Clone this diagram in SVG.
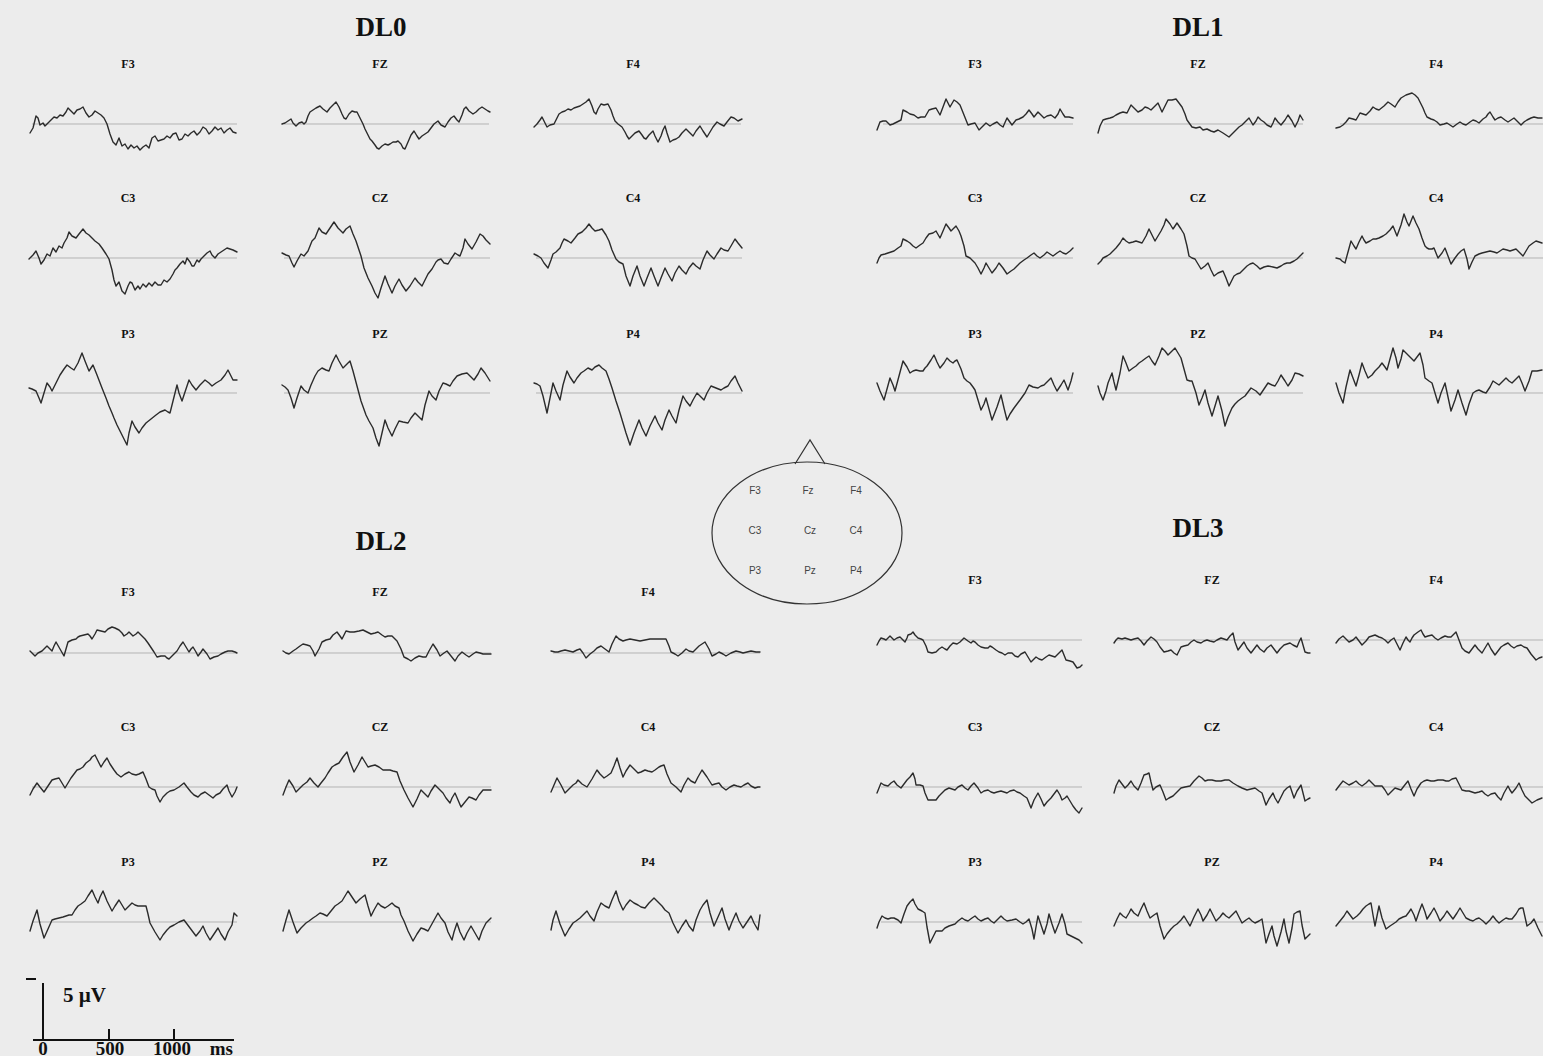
<svg xmlns="http://www.w3.org/2000/svg" width="1543" height="1056" viewBox="0 0 1543 1056">
<style>
.wave{fill:none;stroke:#2b2b2b;stroke-width:1.4;stroke-linejoin:round;stroke-linecap:round}
.base{stroke:#b3b3b3;stroke-width:1}
.lbl{font-family:"Liberation Serif",serif;font-weight:bold;font-size:12px;text-anchor:middle;fill:#111}
.title{font-family:"Liberation Serif",serif;font-weight:bold;font-size:27px;text-anchor:middle;fill:#111}
.hl{font-family:"Liberation Sans",sans-serif;font-size:10px;text-anchor:middle;fill:#444}
.ax{stroke:#111;stroke-width:2;fill:none}
.axt{font-family:"Liberation Serif",serif;font-weight:bold;fill:#111}
</style>
<rect x="0" y="0" width="1543" height="1056" fill="#ececec"/>

<g id="titles">
<text class="title" x="381" y="36">DL0</text>
<text class="title" x="1198" y="36">DL1</text>
<text class="title" x="381" y="550">DL2</text>
<text class="title" x="1198" y="537">DL3</text>
</g>

<!-- DL0 -->
<g id="dl0-f3"><text class="lbl" x="128" y="68">F3</text><g transform="translate(30,124)"><line class="base" x1="2" y1="0" x2="207" y2="0"/><polyline class="wave" points="0,9 3,4 6,-8 8,-6 10,1 13,-1 15,2 18,-1 21,-4 24,-7 27,-6 30,-9 33,-8 36,-12 38,-16 41,-13 44,-10 47,-14 50,-15 53,-17 56,-11 59,-7 62,-9 65,-13 68,-11 71,-9 74,-6 77,0 80,10 83,18 86,21 89,14 92,22 95,20 98,25 101,21 104,24 107,22 110,26 113,23 116,21 119,24 122,14 125,12 128,17 131,16 134,15 137,12 140,14 143,10 146,9 149,16 152,15 155,10 158,12 161,9 164,7 167,11 170,8 173,3 176,5 179,10 182,7 185,3 188,6 191,4 194,9 197,6 200,4 203,8 206,9"/></g></g>
<g id="dl0-fz"><text class="lbl" x="380" y="68">FZ</text><g transform="translate(282,124)"><line class="base" x1="2" y1="0" x2="207" y2="0"/><polyline class="wave" points="0,0 3,-1 6,-3 9,-5 11,-1 14,2 17,-1 20,-2 22,0 24,-2 26,-8 28,-12 31,-14 34,-16 38,-18 41,-15 45,-12 48,-16 51,-19 54,-22 57,-17 60,-10 62,-6 64,-5 67,-10 70,-13 73,-12 75,-12 78,-6 81,0 83,5 86,11 88,15 90,17 93,21 95,24 97,25 100,22 103,20 106,21 108,20 111,18 114,18 116,17 119,20 121,24 123,25 126,18 129,11 132,7 135,12 137,15 140,12 143,10 146,8 149,4 152,0 156,-3 159,1 163,3 166,-2 169,-6 172,-8 175,-4 177,-2 180,-9 182,-15 184,-17 187,-13 191,-10 194,-12 197,-15 200,-17 203,-15 206,-13 208,-12"/></g></g>
<g id="dl0-f4"><text class="lbl" x="633" y="68">F4</text><g transform="translate(534,124)"><line class="base" x1="2" y1="0" x2="207" y2="0"/><polyline class="wave" points="0,3 3,0 6,-4 8,-7 10,-3 13,3 16,1 20,0 22,-4 25,-10 28,-12 31,-13 34,-15 37,-14 40,-16 43,-17 46,-18 49,-20 52,-22 55,-25 58,-18 60,-12 62,-10 64,-15 67,-20 70,-19 74,-20 77,-14 79,-8 81,-3 84,0 88,3 91,8 93,12 95,15 98,12 101,9 105,7 108,11 110,14 112,15 115,11 119,7 121,12 124,18 127,12 129,6 131,2 133,9 136,18 139,16 142,15 145,13 148,9 152,5 155,8 159,12 162,7 166,2 169,7 173,13 176,8 179,3 183,-2 186,0 190,2 193,-2 197,-7 200,-6 204,-3 206,-4 208,-5"/></g></g>
<g id="dl0-c3"><text class="lbl" x="128" y="202">C3</text><g transform="translate(29,258)"><line class="base" x1="2" y1="0" x2="208" y2="0"/><polyline class="wave" points="0,1 4,-3 7,-7 10,0 12,6 15,2 18,-4 21,-2 24,-10 27,-6 30,-12 33,-10 35,-15 38,-20 40,-26 43,-22 47,-20 50,-24 54,-29 57,-25 60,-23 63,-20 66,-17 70,-14 73,-10 77,-4 80,1 83,12 85,22 87,28 90,24 93,33 96,36 99,28 101,24 103,25 106,32 109,28 111,31 114,26 117,29 120,25 123,28 126,24 129,27 132,27 135,22 138,24 141,21 144,16 146,12 148,10 151,6 154,3 156,6 158,0 161,4 163,8 165,8 168,2 170,4 172,1 175,-2 178,-5 181,-7 183,-3 186,0 189,-4 192,-6 195,-8 198,-10 201,-9 204,-8 208,-6"/></g></g>
<g id="dl0-cz"><text class="lbl" x="380" y="202">CZ</text><g transform="translate(282,258)"><line class="base" x1="2" y1="0" x2="208" y2="0"/><polyline class="wave" points="0,-5 4,-3 7,-2 10,5 12,9 15,3 19,-4 22,-2 26,-7 28,-12 30,-17 33,-20 37,-30 40,-26 44,-24 48,-30 52,-36 56,-30 61,-25 64,-29 68,-32 71,-24 74,-17 77,-8 79,-2 82,10 86,20 90,28 93,35 96,40 99,30 103,18 106,26 110,35 113,28 117,21 120,27 124,33 128,28 133,20 136,24 140,28 143,22 146,16 150,11 154,4 156,2 159,1 162,5 166,6 169,1 173,-5 176,-3 178,-2 181,-10 183,-19 186,-14 190,-9 194,-16 198,-24 201,-22 204,-18 208,-14"/></g></g>
<g id="dl0-c4"><text class="lbl" x="633" y="202">C4</text><g transform="translate(534,258)"><line class="base" x1="2" y1="0" x2="208" y2="0"/><polyline class="wave" points="0,-4 4,-2 7,0 10,5 14,10 17,2 19,-4 22,-6 26,-10 28,-15 30,-19 34,-17 37,-15 41,-20 44,-24 48,-26 52,-30 55,-34 58,-30 61,-27 65,-28 68,-29 72,-23 75,-17 78,-8 82,1 85,4 89,6 92,18 96,28 99,18 103,8 106,18 110,28 113,20 117,10 120,18 124,28 127,20 131,10 134,16 138,23 141,15 145,8 148,12 152,16 155,10 159,5 162,8 166,11 169,2 173,-7 176,-3 180,1 183,-4 187,-10 190,-8 194,-7 197,-12 201,-19 204,-15 208,-10"/></g></g>
<g id="dl0-p3"><text class="lbl" x="128" y="338">P3</text><g transform="translate(29,393)"><line class="base" x1="2" y1="0" x2="208" y2="0"/><polyline class="wave" points="0,-5 3,-4 7,-2 10,5 12,10 15,0 18,-10 21,-6 23,-2 27,-10 31,-18 35,-24 38,-28 42,-25 45,-23 49,-30 53,-40 56,-32 60,-22 62,-25 64,-28 68,-18 73,-5 77,5 80,13 83,20 85,25 88,32 92,40 95,46 98,52 100,40 103,28 106,34 110,40 113,35 117,30 122,26 127,22 131,19 136,17 139,19 141,20 144,8 148,-8 150,0 153,8 157,-4 160,-13 163,-8 167,-3 171,-8 176,-13 180,-10 183,-7 187,-10 192,-13 196,-18 199,-23 202,-17 204,-13 208,-13"/></g></g>
<g id="dl0-pz"><text class="lbl" x="380" y="338">PZ</text><g transform="translate(282,393)"><line class="base" x1="2" y1="0" x2="208" y2="0"/><polyline class="wave" points="0,-8 3,-6 6,-3 9,5 12,15 15,5 19,-7 22,-3 26,0 29,-8 33,-17 36,-22 40,-25 44,-23 47,-22 50,-30 54,-38 57,-32 61,-25 64,-28 68,-32 71,-22 75,-7 79,8 84,22 87,28 91,35 94,45 97,53 100,40 103,27 106,35 110,43 113,36 117,28 121,29 126,30 129,25 133,20 136,23 140,27 143,12 147,-2 150,3 154,7 157,-2 161,-10 164,-9 168,-7 171,-12 175,-17 180,-19 185,-20 188,-17 192,-13 196,-19 199,-25 203,-20 208,-12"/></g></g>
<g id="dl0-p4"><text class="lbl" x="633" y="338">P4</text><g transform="translate(534,393)"><line class="base" x1="2" y1="0" x2="208" y2="0"/><polyline class="wave" points="0,-10 3,-9 6,-7 9,3 13,20 16,5 19,-10 22,-2 26,7 29,-8 33,-22 36,-16 40,-10 43,-15 47,-20 50,-22 54,-25 58,-23 61,-26 65,-28 68,-25 72,-22 75,-14 78,-5 82,8 86,20 89,30 92,40 96,52 100,40 105,27 108,35 112,43 116,33 121,23 124,30 128,37 131,27 135,17 138,23 142,30 145,17 149,3 152,8 156,13 159,7 163,0 166,3 170,7 173,0 177,-7 182,-5 187,-3 190,-5 194,-7 197,-12 201,-17 204,-10 208,-2"/></g></g>

<!-- DL1 -->
<g id="dl1-f3"><text class="lbl" x="975" y="68">F3</text><g transform="translate(877,124)"><line class="base" x1="6" y1="0" x2="196" y2="0"/><polyline class="wave" points="0,6 3,-2 6,-3 9,-3 13,1 16,0 20,-2 24,-4 26,-14 28,-13 30,-12 33,-10 37,-9 41,-6 44,-7 48,-7 52,-14 55,-15 59,-16 63,-9 66,-17 69,-25 71,-21 73,-17 77,-24 80,-22 83,-19 87,-9 91,1 94,0 98,-1 102,6 105,3 109,-1 113,2 116,0 120,-2 123,1 126,3 130,-6 135,1 139,-4 142,-5 146,-7 149,-10 152,-14 155,-10 157,-7 161,-12 164,-9 167,-6 170,-8 174,-9 178,-6 181,-10 183,-15 186,-10 188,-7 192,-7 196,-6"/></g></g>
<g id="dl1-fz"><text class="lbl" x="1198" y="68">FZ</text><g transform="translate(1098,124)"><line class="base" x1="6" y1="0" x2="205" y2="0"/><polyline class="wave" points="0,9 2,2 5,-4 8,-5 12,-6 15,-7 18,-9 22,-11 25,-12 29,-11 33,-19 36,-16 40,-12 44,-14 47,-17 50,-16 53,-14 57,-18 60,-21 64,-12 67,-18 70,-24 74,-24 78,-25 81,-21 84,-17 87,-10 89,-4 94,3 98,4 102,3 105,6 109,5 113,7 116,8 120,6 125,9 128,11 131,13 135,9 138,6 141,3 144,1 148,-3 151,-6 155,1 158,-3 160,-7 163,-4 166,-2 169,1 173,3 175,-1 177,-6 180,-2 183,1 187,-4 190,-9 194,-3 197,3 200,-3 202,-9 205,-4"/></g></g>
<g id="dl1-f4"><text class="lbl" x="1436" y="68">F4</text><g transform="translate(1336,124)"><line class="base" x1="4" y1="0" x2="207" y2="0"/><polyline class="wave" points="0,4 4,3 7,1 10,-2 13,-6 17,-5 20,-4 24,-11 27,-10 30,-9 34,-13 37,-17 40,-15 43,-14 48,-18 52,-22 55,-20 59,-17 62,-22 65,-26 70,-29 73,-30 76,-31 79,-29 82,-26 85,-20 87,-16 89,-11 91,-7 95,-5 98,-4 101,-2 104,1 108,0 111,-1 114,1 117,3 121,0 124,-2 127,0 130,1 134,-2 137,-4 140,-3 143,-1 147,-5 150,-7 152,-10 154,-12 157,-7 159,-4 162,-6 165,-7 169,-4 172,-2 175,-4 178,-6 182,-2 185,1 188,-2 191,-4 195,-6 198,-7 202,-6 206,-6"/></g></g>
<g id="dl1-c3"><text class="lbl" x="975" y="202">C3</text><g transform="translate(877,258)"><line class="base" x1="6" y1="0" x2="196" y2="0"/><polyline class="wave" points="0,5 2,0 4,-3 8,-4 11,-5 14,-6 17,-7 21,-10 24,-12 26,-19 30,-17 33,-15 36,-12 39,-10 43,-13 46,-15 49,-20 52,-24 56,-25 59,-27 63,-20 66,-27 69,-34 72,-30 74,-27 77,-30 79,-32 82,-27 84,-22 87,-12 89,-2 93,0 96,3 98,5 101,10 104,16 107,10 109,5 112,10 115,15 119,10 122,5 126,10 130,16 134,13 137,11 140,8 143,5 147,2 150,0 154,-3 157,-5 160,-2 163,0 167,-3 170,-6 173,-4 176,-2 180,-5 183,-7 186,-5 189,-4 193,-7 196,-10"/></g></g>
<g id="dl1-cz"><text class="lbl" x="1198" y="202">CZ</text><g transform="translate(1098,258)"><line class="base" x1="6" y1="0" x2="205" y2="0"/><polyline class="wave" points="0,6 3,3 5,0 9,-2 12,-4 15,-7 18,-10 22,-15 25,-20 28,-17 31,-15 35,-16 38,-17 41,-16 44,-15 48,-22 51,-29 54,-23 57,-17 60,-22 63,-27 66,-33 68,-39 72,-34 75,-29 77,-32 79,-35 83,-29 86,-24 89,-12 91,-2 94,0 97,1 100,6 103,11 107,8 110,5 113,12 116,18 120,15 125,13 128,20 131,28 134,22 136,18 139,16 142,15 146,11 149,8 152,6 155,5 159,8 162,11 166,9 170,8 175,9 179,10 183,8 186,6 189,5 192,5 196,3 199,1 202,-2 205,-5"/></g></g>
<g id="dl1-c4"><text class="lbl" x="1436" y="202">C4</text><g transform="translate(1336,258)"><line class="base" x1="4" y1="0" x2="207" y2="0"/><polyline class="wave" points="0,0 4,1 6,3 9,5 12,-6 15,-17 18,-12 20,-9 23,-16 26,-22 28,-18 30,-15 34,-17 37,-19 40,-19 43,-20 47,-22 50,-24 54,-28 57,-32 59,-27 61,-22 65,-33 68,-44 71,-36 73,-32 75,-37 77,-42 80,-35 83,-29 86,-20 89,-12 91,-10 93,-9 96,-9 98,-10 100,-5 102,0 106,-5 109,-10 112,-2 115,6 119,0 122,-4 125,-7 128,-9 131,1 133,11 136,4 139,-2 143,-4 146,-5 150,-6 154,-7 158,-6 161,-5 164,-7 167,-9 171,-8 174,-7 177,-8 180,-9 184,-5 187,-2 190,-7 193,-12 197,-15 200,-17 203,-16 206,-15"/></g></g>
<g id="dl1-p3"><text class="lbl" x="975" y="338">P3</text><g transform="translate(877,393)"><line class="base" x1="6" y1="0" x2="196" y2="0"/><polyline class="wave" points="0,-10 3,-2 7,7 10,-4 13,-15 16,-8 18,-2 22,-17 26,-32 30,-26 33,-20 36,-22 39,-23 43,-22 46,-22 48,-25 50,-27 54,-33 57,-38 60,-31 63,-25 67,-30 70,-35 73,-32 76,-30 78,-32 80,-33 84,-24 87,-15 90,-12 93,-10 96,-6 98,-3 101,7 104,17 107,11 109,5 112,16 115,27 120,14 124,2 127,15 130,27 133,21 137,15 140,11 143,7 148,0 152,-8 156,-6 161,-5 164,-7 167,-8 171,-12 174,-15 177,-8 180,-2 184,-8 187,-13 189,-8 191,-3 194,-12 196,-20"/></g></g>
<g id="dl1-pz"><text class="lbl" x="1198" y="338">PZ</text><g transform="translate(1098,393)"><line class="base" x1="6" y1="0" x2="205" y2="0"/><polyline class="wave" points="0,-7 2,0 5,7 8,-2 10,-10 12,-15 14,-20 16,-11 18,-3 22,-20 25,-37 28,-30 31,-22 35,-25 38,-27 41,-30 44,-32 48,-35 51,-37 54,-32 57,-28 61,-37 64,-45 67,-42 70,-38 74,-42 77,-45 80,-40 83,-35 86,-24 89,-13 92,-12 94,-12 98,0 101,12 104,5 107,-3 110,10 114,23 117,13 120,3 124,18 127,33 130,24 134,15 137,11 140,8 144,5 147,3 150,-1 153,-5 158,-2 162,2 166,-4 170,-10 174,-8 177,-7 180,-12 183,-18 187,-12 190,-7 194,-13 197,-20 201,-19 205,-17"/></g></g>
<g id="dl1-p4"><text class="lbl" x="1436" y="338">P4</text><g transform="translate(1336,393)"><line class="base" x1="4" y1="0" x2="207" y2="0"/><polyline class="wave" points="0,-10 3,0 7,10 10,-6 14,-23 17,-15 20,-7 23,-18 26,-30 29,-22 32,-15 36,-18 39,-22 43,-26 46,-30 49,-26 51,-23 54,-34 57,-45 60,-35 62,-25 65,-34 67,-43 70,-40 73,-37 76,-34 78,-32 81,-36 84,-40 87,-28 89,-15 93,-12 96,-10 99,0 102,10 105,0 109,-10 112,4 115,18 119,7 122,-3 126,10 130,22 133,11 137,0 140,-2 143,-3 147,-1 150,0 154,-6 157,-12 160,-10 163,-8 167,-12 170,-15 173,-12 176,-10 180,-14 183,-17 186,-10 189,-2 193,-12 196,-22 201,-22 206,-23"/></g></g>

<!-- DL2 -->
<g id="dl2-f3"><text class="lbl" x="128" y="596">F3</text><g transform="translate(30,653)"><line class="base" x1="2" y1="0" x2="207" y2="0"/><polyline class="wave" points="0,-2 3,1 5,3 8,0 12,-2 15,-5 17,-7 20,-4 22,-2 24,-7 26,-11 30,-4 34,3 36,-4 38,-11 42,-13 46,-14 48,-16 50,-17 54,-18 58,-19 60,-17 62,-14 65,-19 67,-23 71,-22 75,-21 78,-24 82,-26 85,-25 89,-23 92,-20 94,-17 97,-19 99,-21 101,-19 103,-17 106,-19 108,-21 111,-18 115,-14 118,-10 120,-7 124,-1 127,4 131,3 135,3 137,5 139,6 143,2 147,-2 150,-7 153,-11 156,-6 159,-1 161,-4 163,-6 166,-1 168,3 171,-1 173,-4 177,1 180,6 184,4 188,3 191,1 195,-1 198,-2 202,-2 205,-1 207,0"/></g></g>
<g id="dl2-fz"><text class="lbl" x="380" y="596">FZ</text><g transform="translate(283,653)"><line class="base" x1="2" y1="0" x2="208" y2="0"/><polyline class="wave" points="0,-2 3,0 6,1 10,-2 13,-4 17,-7 20,-9 24,-8 27,-7 30,-2 32,3 36,-4 39,-11 43,-13 47,-14 50,-18 54,-21 57,-17 59,-14 61,-18 63,-22 67,-21 71,-21 76,-22 80,-23 84,-21 88,-19 92,-20 95,-21 99,-18 102,-16 105,-17 109,-17 111,-15 114,-12 118,-4 121,4 125,6 128,8 132,5 136,3 140,4 143,4 146,-2 150,-9 154,-3 157,3 161,0 164,-2 168,3 172,8 175,3 179,-1 183,2 186,4 190,1 193,-1 197,0 200,1 204,1 208,1"/></g></g>
<g id="dl2-f4"><text class="lbl" x="648" y="596">F4</text><g transform="translate(551,653)"><line class="base" x1="2" y1="0" x2="209" y2="0"/><polyline class="wave" points="0,-2 4,-1 7,-1 10,-2 14,-3 18,-2 22,-1 26,-3 29,-4 32,0 35,5 39,1 43,-2 46,-5 50,-7 54,-4 58,-1 61,-9 65,-17 68,-14 72,-12 75,-13 79,-14 84,-13 89,-12 94,-13 99,-14 103,-14 108,-14 112,-14 115,-14 118,-7 120,-1 124,1 127,3 131,0 135,-4 138,-2 142,-1 145,-4 148,-7 151,-9 154,-11 158,-4 161,3 165,1 168,-1 172,1 175,3 180,0 185,-2 189,-1 192,0 196,-1 200,-2 205,-1 209,-1"/></g></g>
<g id="dl2-c3"><text class="lbl" x="128" y="731">C3</text><g transform="translate(30,787)"><line class="base" x1="2" y1="0" x2="207" y2="0"/><polyline class="wave" points="0,8 3,2 7,-4 10,0 14,5 18,-1 22,-7 25,-8 29,-9 32,-4 35,1 38,-4 41,-9 44,-13 47,-17 50,-18 53,-20 56,-24 60,-27 62,-30 65,-32 68,-26 71,-20 74,-25 77,-29 80,-23 84,-17 87,-13 91,-10 95,-13 99,-15 102,-13 106,-12 109,-13 113,-15 116,-8 119,0 122,2 125,3 127,9 130,15 133,10 137,6 140,4 144,3 149,0 154,-4 157,0 161,5 164,8 168,10 171,7 175,5 179,8 183,11 186,8 190,6 193,2 197,-2 199,4 202,10 205,5 207,0"/></g></g>
<g id="dl2-cz"><text class="lbl" x="380" y="731">CZ</text><g transform="translate(283,787)"><line class="base" x1="2" y1="0" x2="208" y2="0"/><polyline class="wave" points="0,8 3,0 6,-7 10,-1 13,5 16,2 20,-2 24,-5 27,-9 31,-4 35,0 38,-4 42,-9 45,-14 49,-20 52,-22 56,-24 60,-30 64,-35 67,-25 71,-15 75,-22 79,-30 82,-25 85,-20 88,-21 92,-22 96,-20 100,-17 103,-17 107,-17 110,-16 114,-15 117,-6 121,3 125,11 130,20 134,12 138,3 141,6 145,10 148,4 152,-2 156,2 160,6 163,11 167,16 169,11 172,6 175,13 178,20 182,15 186,10 189,11 193,13 196,8 200,3 204,3 208,3"/></g></g>
<g id="dl2-c4"><text class="lbl" x="648" y="731">C4</text><g transform="translate(551,787)"><line class="base" x1="2" y1="0" x2="209" y2="0"/><polyline class="wave" points="0,5 3,-2 6,-9 10,-2 14,6 18,2 22,-2 25,-4 27,-7 31,-3 36,0 41,-8 46,-17 49,-13 53,-9 56,-11 60,-14 63,-21 66,-29 69,-19 72,-10 75,-16 79,-22 83,-18 87,-14 90,-15 94,-17 97,-16 101,-15 104,-17 108,-20 110,-21 113,-22 116,-13 120,-4 125,0 130,5 133,-2 137,-9 140,-6 144,-4 147,-10 151,-17 156,-10 161,-2 164,-3 168,-4 171,0 175,3 179,0 183,-2 186,-1 190,0 193,-2 197,-4 200,-1 204,1 207,0 209,0"/></g></g>
<g id="dl2-p3"><text class="lbl" x="128" y="866">P3</text><g transform="translate(30,922)"><line class="base" x1="2" y1="0" x2="207" y2="0"/><polyline class="wave" points="0,9 3,-1 7,-12 10,2 14,16 18,7 22,-2 25,-3 29,-4 33,-5 36,-6 39,-7 42,-7 45,-12 48,-16 51,-18 55,-21 58,-26 62,-32 65,-25 68,-19 70,-25 73,-31 77,-21 82,-11 85,-16 89,-22 92,-17 95,-12 98,-15 102,-19 105,-17 108,-16 112,-16 116,-16 118,-8 120,1 125,10 130,18 133,13 137,8 140,5 144,3 149,0 154,-2 157,2 160,6 163,10 166,14 170,9 173,4 176,11 180,18 184,12 188,6 191,12 195,18 198,10 202,3 204,-9 207,-6"/></g></g>
<g id="dl2-pz"><text class="lbl" x="380" y="866">PZ</text><g transform="translate(283,922)"><line class="base" x1="2" y1="0" x2="208" y2="0"/><polyline class="wave" points="0,9 3,-2 6,-12 10,0 14,11 18,6 23,1 26,-1 30,-4 33,-6 37,-9 40,-8 44,-6 48,-11 52,-16 55,-18 59,-21 62,-26 65,-31 69,-25 73,-19 77,-23 82,-27 85,-16 88,-6 91,-12 95,-19 98,-16 102,-14 105,-16 109,-19 112,-16 116,-14 118,-7 121,-1 125,9 130,19 134,12 138,6 141,7 145,9 150,0 155,-9 158,-4 162,1 165,10 169,18 171,10 174,1 177,10 181,18 184,11 188,4 192,11 196,18 199,9 203,1 208,-4"/></g></g>
<g id="dl2-p4"><text class="lbl" x="648" y="866">P4</text><g transform="translate(551,922)"><line class="base" x1="2" y1="0" x2="209" y2="0"/><polyline class="wave" points="0,8 2,-2 5,-11 9,2 14,14 18,7 22,1 25,-1 29,-4 32,-7 36,-11 39,-6 43,-1 46,-10 50,-19 54,-16 58,-14 61,-22 65,-31 68,-21 72,-12 75,-17 79,-22 83,-19 87,-17 90,-15 94,-14 98,-19 103,-24 107,-20 111,-16 114,-12 118,-9 122,1 127,11 131,4 135,-2 138,4 142,9 145,-2 149,-12 152,-17 156,-22 159,-9 163,4 167,-5 171,-14 174,-3 178,8 181,0 185,-9 188,-1 192,6 196,0 200,-6 203,1 207,8 209,-7"/></g></g>

<!-- DL3 -->
<g id="dl3-f3"><text class="lbl" x="975" y="584">F3</text><g transform="translate(877,640)"><line class="base" x1="4" y1="0" x2="205" y2="0"/><polyline class="wave" points="0,5 2,1 4,-2 7,-1 9,0 11,-2 13,-4 15,-2 17,0 20,-2 23,-3 26,0 28,2 30,-2 31,-5 34,-6 36,-8 38,-5 41,-2 44,-1 46,0 49,6 51,12 55,13 59,12 62,9 65,7 68,9 70,10 73,6 76,3 80,4 83,2 85,0 87,-2 91,1 94,3 96,1 98,2 101,5 104,7 108,8 111,8 113,6 115,7 119,10 122,12 125,13 128,15 131,13 135,13 138,16 141,17 144,14 148,12 151,17 154,22 157,19 159,17 162,19 165,20 169,17 172,15 175,16 178,17 182,13 185,10 187,15 189,20 193,21 196,22 198,25 200,28 203,27 205,25"/></g></g>
<g id="dl3-fz"><text class="lbl" x="1212" y="584">FZ</text><g transform="translate(1114,640)"><line class="base" x1="2" y1="0" x2="196" y2="0"/><polyline class="wave" points="0,3 2,0 4,-2 8,-1 11,-2 14,-1 17,0 20,-1 24,-2 27,1 30,5 33,1 37,-3 40,-1 43,2 46,7 50,12 54,11 57,10 60,13 63,15 65,11 67,7 70,6 74,5 77,2 80,0 83,2 87,3 90,1 93,0 96,1 100,2 103,0 107,-2 110,-1 113,0 116,-4 119,-7 121,2 124,10 127,6 130,2 133,8 137,13 140,9 143,5 146,9 150,12 153,8 157,5 160,9 163,13 166,9 170,5 173,4 176,3 179,5 183,7 185,2 187,-2 189,5 191,12 194,13 196,13"/></g></g>
<g id="dl3-f4"><text class="lbl" x="1436" y="584">F4</text><g transform="translate(1336,640)"><line class="base" x1="2" y1="0" x2="207" y2="0"/><polyline class="wave" points="0,3 3,-1 7,-4 10,-1 13,2 17,0 20,-3 23,1 26,5 30,1 33,-3 36,-4 39,-5 43,-3 46,-2 49,0 52,3 55,0 58,-2 61,4 64,10 67,3 70,-3 72,0 74,2 76,-2 78,-5 82,-8 85,-10 87,-6 89,-3 92,-4 96,-5 99,-2 102,0 105,-2 109,-4 112,-3 115,-3 118,-6 120,-8 123,0 126,8 129,11 133,13 136,9 139,5 142,9 146,13 149,8 152,3 155,9 159,15 162,11 165,7 168,5 172,3 175,6 178,8 181,6 185,5 188,7 191,8 195,14 200,20 203,18 206,17"/></g></g>
<g id="dl3-c3"><text class="lbl" x="975" y="731">C3</text><g transform="translate(877,787)"><line class="base" x1="4" y1="0" x2="205" y2="0"/><polyline class="wave" points="0,6 2,1 4,-4 7,-2 11,-1 14,-4 17,-6 20,-2 24,1 27,-3 30,-7 33,-10 36,-14 38,-8 39,-2 43,-2 46,-1 48,6 51,13 55,13 59,13 62,9 65,6 68,3 72,1 75,2 78,3 81,0 85,-2 88,1 91,3 94,-1 97,-4 101,1 104,6 107,4 111,3 114,5 117,6 120,5 124,4 127,5 130,6 133,4 137,3 140,5 143,6 147,9 150,11 152,16 154,21 157,13 161,6 164,12 167,19 170,15 174,11 177,7 180,3 183,8 185,13 188,11 190,9 193,14 196,19 199,23 202,26 205,21"/></g></g>
<g id="dl3-cz"><text class="lbl" x="1212" y="731">CZ</text><g transform="translate(1114,787)"><line class="base" x1="2" y1="0" x2="196" y2="0"/><polyline class="wave" points="0,6 2,-1 5,-7 8,-3 11,1 14,-2 17,-6 20,-1 24,3 27,-4 30,-12 33,-13 35,-14 37,-5 39,3 42,0 46,-2 49,5 52,13 55,11 59,9 63,5 67,1 71,0 76,-1 80,-6 85,-11 88,-9 91,-6 94,-7 98,-7 102,-6 107,-6 111,-7 115,-7 119,-4 124,-1 128,1 133,3 137,2 141,1 145,4 148,6 150,12 152,18 155,12 159,6 161,11 164,16 167,10 170,4 173,1 176,-1 178,5 180,11 183,4 187,-2 189,6 191,14 194,12 196,11"/></g></g>
<g id="dl3-c4"><text class="lbl" x="1436" y="731">C4</text><g transform="translate(1336,787)"><line class="base" x1="2" y1="0" x2="207" y2="0"/><polyline class="wave" points="0,3 3,-1 7,-6 10,-4 13,-2 17,-4 20,-6 23,-3 26,-1 30,-4 33,-7 36,-4 39,-1 43,-1 46,-1 49,3 52,8 55,5 59,1 62,2 65,3 68,-1 72,-6 75,2 78,9 81,2 85,-4 88,-6 91,-7 95,-6 98,-6 102,-7 107,-7 110,-6 113,-6 116,-8 120,-9 123,-3 126,3 130,4 133,4 136,5 139,6 143,5 146,4 149,7 152,9 155,7 159,6 162,10 165,13 168,6 172,-1 174,3 176,6 180,1 183,-4 186,3 189,9 193,13 196,16 201,13 206,11"/></g></g>
<g id="dl3-p3"><text class="lbl" x="975" y="866">P3</text><g transform="translate(877,922)"><line class="base" x1="4" y1="0" x2="205" y2="0"/><polyline class="wave" points="0,6 2,0 5,-6 8,-4 11,-3 14,-4 17,-4 21,-2 24,1 27,-8 30,-16 33,-20 36,-23 38,-18 41,-13 45,-11 48,-9 50,5 53,21 56,15 59,9 62,9 65,9 68,6 72,4 75,3 78,2 81,-1 85,-4 88,-2 91,-1 95,-4 98,-6 101,-3 104,-1 108,-3 111,-4 114,-1 117,1 121,-3 124,-6 127,-3 130,-1 135,-2 139,-3 143,0 146,2 149,0 152,-3 155,7 157,17 159,5 161,-6 164,3 167,12 170,2 172,-8 175,2 178,11 182,1 185,-8 188,2 190,12 194,14 198,16 202,18 205,21"/></g></g>
<g id="dl3-pz"><text class="lbl" x="1212" y="866">PZ</text><g transform="translate(1114,922)"><line class="base" x1="2" y1="0" x2="196" y2="0"/><polyline class="wave" points="0,4 3,-3 6,-9 9,-6 12,-4 15,-9 17,-13 20,-9 24,-6 27,-13 30,-19 33,-11 36,-4 40,-7 43,-9 46,4 50,17 53,12 57,7 60,4 63,2 67,-2 70,-6 73,-1 76,4 80,-5 84,-13 87,-7 89,-1 93,-7 96,-13 99,-7 102,-1 106,-5 109,-9 112,-6 115,-4 119,-8 122,-11 125,-5 128,1 132,-2 135,-4 138,-1 141,1 145,-1 148,-3 150,9 152,21 155,12 158,4 160,14 163,24 167,10 170,-3 172,9 175,21 178,6 180,-8 183,-10 186,-11 188,3 191,17 194,14 196,12"/></g></g>
<g id="dl3-p4"><text class="lbl" x="1436" y="866">P4</text><g transform="translate(1336,922)"><line class="base" x1="2" y1="0" x2="207" y2="0"/><polyline class="wave" points="0,4 4,-1 8,-6 11,-11 14,-7 17,-3 21,-6 24,-9 27,-13 30,-16 33,-18 35,-19 37,-7 39,4 41,-6 43,-16 46,-4 50,7 54,4 57,2 60,0 63,-3 67,-5 70,-6 73,-10 75,-13 78,-7 80,-1 83,-10 86,-18 89,-10 91,-3 95,-9 98,-14 101,-8 104,-1 108,-6 111,-11 114,-7 117,-3 121,-9 124,-14 127,-9 130,-4 134,-2 137,-1 140,-3 143,-4 147,-1 150,2 154,-2 157,-6 160,-2 163,1 167,-2 170,-4 173,-3 176,-3 180,-8 183,-13 185,-14 187,-14 189,-5 191,4 195,1 198,-3 202,6 206,14"/></g></g>

<!-- head map -->
<g id="head">
<polyline points="795,464 810,440 825,464" fill="none" stroke="#333" stroke-width="1.2"/>
<ellipse cx="807" cy="533" rx="95" ry="71" fill="none" stroke="#333" stroke-width="1.2"/>
<text class="hl" x="755" y="494">F3</text><text class="hl" x="808" y="494">Fz</text><text class="hl" x="856" y="494">F4</text>
<text class="hl" x="755" y="534">C3</text><text class="hl" x="810" y="534">Cz</text><text class="hl" x="856" y="534">C4</text>
<text class="hl" x="755" y="574">P3</text><text class="hl" x="810" y="574">Pz</text><text class="hl" x="856" y="574">P4</text>
</g>

<!-- scale -->
<g id="scale">
<line class="ax" x1="26" y1="979" x2="36" y2="979"/>
<line class="ax" x1="43" y1="983" x2="43" y2="1040"/>
<line class="ax" x1="33" y1="1040" x2="234" y2="1040"/>
<line class="ax" x1="109" y1="1029" x2="109" y2="1040"/>
<line class="ax" x1="174" y1="1029" x2="174" y2="1040"/>
<text class="axt" x="63" y="1002" font-size="21">5 µV</text>
<text class="axt" x="43" y="1055" font-size="19" text-anchor="middle">0</text>
<text class="axt" x="110" y="1055" font-size="19" text-anchor="middle">500</text>
<text class="axt" x="153" y="1055" font-size="19" word-spacing="14">1000 ms</text>
</g>
</svg>
